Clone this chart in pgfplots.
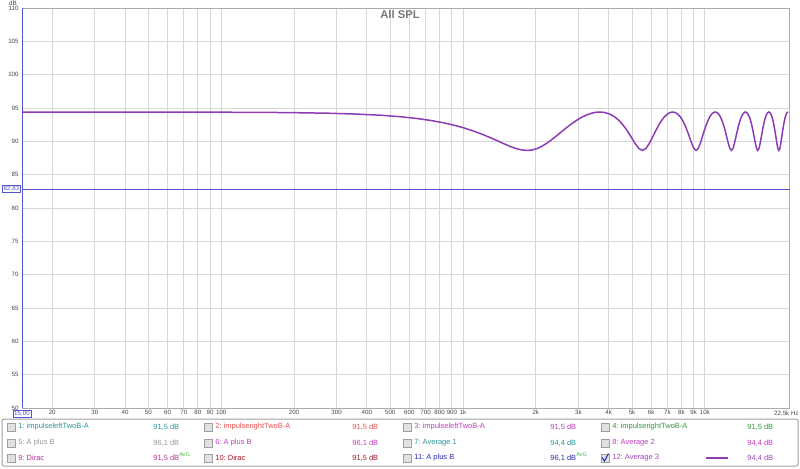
\documentclass[border=0pt]{standalone}
\usepackage{fontspec}
\setmainfont{Liberation Sans}
\usepackage{pgfplots}
\pgfplotsset{compat=1.18}

\definecolor{curve}{RGB}{140,60,180}
\definecolor{cursor}{RGB}{85,85,205}
\definecolor{gridc}{RGB}{215,215,215}
\definecolor{tickgray}{RGB}{70,70,70}
\definecolor{titlegray}{RGB}{120,120,120}
\definecolor{boxgray}{RGB}{160,160,160}
\definecolor{boxfill}{RGB}{225,225,225}
\definecolor{cteal}{RGB}{45,150,155}
\definecolor{cred}{RGB}{235,80,80}
\definecolor{cmag}{RGB}{195,60,195}
\definecolor{cgreen}{RGB}{50,155,60}
\definecolor{cgray}{RGB}{150,150,150}
\definecolor{cpink}{RGB}{180,50,150}
\definecolor{cdred}{RGB}{165,20,40}
\definecolor{cblue}{RGB}{40,40,180}
\definecolor{cpurp}{RGB}{160,70,190}
\definecolor{avg}{RGB}{60,180,60}

\newcommand{\legfont}{\fontsize{3.75}{4.5}\selectfont}
\newcommand{\tickfont}{\fontsize{3.1}{3.6}\selectfont}
\newcommand{\chk}[2]{\draw[draw=boxgray, fill=boxfill, line width=0.4pt] (#1-4,#2-4) rectangle (#1+4,#2+4);}
% legend entry: checkbox x, row y, colour, name, value x, value
\newcommand{\entry}[6]{%
  \chk{#1}{#2}
  \node[anchor=west, inner sep=0pt, text=#3, font=\legfont] at (#1+7,#2) {#4};
  \node[anchor=west, inner sep=0pt, text=#3, font=\legfont] at (#5,#2) {#6};}

\begin{document}
\frenchspacing
\begin{tikzpicture}
\begin{scope}[x=0.5pt,y=-0.5pt]
\path[use as bounding box] (0,0) rectangle (800,468);
\end{scope}

\begin{axis}[
    at={(11pt,-204pt)}, anchor=south west,
    scale only axis, width=384pt, height=200pt,
    xmode=log, xmin=15, xmax=22500,
    ymin=50, ymax=110,
    xtick={20,30,40,50,60,70,80,90,100,200,300,400,500,600,700,800,900,1000,2000,3000,4000,5000,6000,7000,8000,9000,10000},
    xticklabels={20,30,40,50,60,70,80,90,100,200,300,400,500,600,700,800,900,1k,2k,3k,4k,5k,6k,7k,8k,9k,10k},
    ytick={50,55,60,65,70,75,80,85,90,95,100,105,110},
    yticklabels={50,55,60,65,70,75,80,85,90,95,100,105,110},
    major tick length=0pt,
    grid=major,
    grid style={gridc, line width=0.5pt},
    axis line style={draw=gridc!80!black, line width=0.5pt},
    xticklabel style={font=\tickfont, text=tickgray, inner sep=1pt},
    yticklabel style={font=\tickfont, text=tickgray, inner sep=1.5pt},
    clip=true,
]
% cursor lines
\addplot[cursor, line width=0.5pt, no markers] coordinates {(15,82.83) (22500,82.83)};
\addplot[cursor, line width=1pt, no markers] coordinates {(15,50) (15,110)};

% Average 3
\addplot[curve, line width=0.75pt, no markers] coordinates {
 (15,94.40) (92,94.38) (184,94.32) (276,94.22) (368,94.08) (460,93.91)
 (552,93.69) (644,93.43) (736,93.13) (828,92.79) (920,92.41) (1012,92.00)
 (1104,91.55) (1196,91.08) (1288,90.60) (1380,90.12) (1472,89.66) (1564,89.25)
 (1656,88.92) (1748,88.71) (1840,88.64) (1932,88.71) (2024,88.92) (2116,89.25)
 (2208,89.66) (2300,90.12) (2392,90.60) (2484,91.08) (2576,91.55) (2668,92.00)
 (2760,92.41) (2852,92.79) (2944,93.13) (3036,93.43) (3128,93.69) (3220,93.91)
 (3312,94.08) (3404,94.22) (3496,94.32) (3588,94.38) (3680,94.40)
 (3864,94.32) (4048,94.08) (4232,93.69) (4416,93.13) (4600,92.41) (4784,91.55)
 (4968,90.60) (5152,89.66) (5336,88.92) (5520,88.64) (5704,88.92) (5888,89.66)
 (6072,90.60) (6256,91.55) (6440,92.41) (6624,93.13) (6808,93.69) (6992,94.08)
 (7176,94.32) (7360,94.40)
 (7544,94.32) (7728,94.08) (7912,93.69) (8096,93.13) (8280,92.41) (8464,91.55)
 (8648,90.60) (8832,89.66) (9016,88.92) (9200,88.64) (9384,88.92) (9568,89.66)
 (9752,90.60) (9936,91.55) (10120,92.41) (10304,93.13) (10488,93.69) (10672,94.08)
 (10856,94.32) (11040,94.40)
 (11224,94.32) (11408,94.08) (11592,93.69) (11776,93.13) (11960,92.41) (12144,91.55)
 (12328,90.60) (12512,89.66) (12696,88.92) (12880,88.64) (13064,88.92) (13248,89.66)
 (13432,90.60) (13616,91.55) (13800,92.41) (13984,93.13) (14168,93.69) (14352,94.08)
 (14536,94.32) (14720,94.40)
 (14904,94.32) (15088,94.08) (15272,93.69) (15456,93.13) (15640,92.41) (15824,91.55)
 (16008,90.60) (16192,89.66) (16376,88.92) (16560,88.64) (16744,88.92) (16928,89.66)
 (17112,90.60) (17296,91.55) (17480,92.41) (17664,93.13) (17848,93.69) (18032,94.08)
 (18216,94.32) (18400,94.40)
 (18584,94.32) (18768,94.08) (18952,93.69) (19136,93.13) (19320,92.41) (19504,91.55)
 (19688,90.60) (19872,89.66) (20056,88.92) (20240,88.64) (20424,88.92) (20608,89.66)
 (20792,90.60) (20976,91.55) (21160,92.41) (21344,93.13) (21528,93.69) (21712,94.08)
 (21896,94.32) (22080,94.40)
};
\end{axis}

\begin{scope}[x=0.5pt,y=-0.5pt]
% title and units
\node[text=titlegray, font=\fontsize{5.6}{6.5}\selectfont\bfseries] at (400,14) {All SPL};
\node[text=tickgray, font=\tickfont, inner sep=0pt] at (13,3) {dB};
\node[anchor=east, text=tickgray, font=\tickfont, inner sep=0pt] at (799,414) {22,5k Hz};
% cursor readouts
\node[draw=cursor, fill=white, text=cursor, font=\tickfont, inner sep=0.6pt, line width=0.4pt] at (11.5,189) {82,83};
\node[draw=cursor, fill=white, text=cursor, font=\tickfont, inner sep=0.6pt, line width=0.4pt] at (22,414) {15,00};

% legend panel
\draw[draw=boxgray, fill=white, line width=0.5pt, rounded corners=1pt] (2,419) rectangle (798,466);
\entry{11}{427}{cteal}{1: impulseleftTwoB-A}{153}{91,5 dB}
\entry{208}{427}{cred}{2: impulserightTwoB-A}{352}{91,5 dB}
\entry{407}{427}{cmag}{3: impulseleftTwoB-A}{550}{91,5 dB}
\entry{605}{427}{cgreen}{4: impulserightTwoB-A}{747}{91,5 dB}
\entry{11}{443}{cgray}{5: A plus B}{153}{96,1 dB}
\entry{208}{443}{cmag}{6: A plus B}{352}{96,1 dB}
\entry{407}{443}{cteal}{7: Average 1}{550}{94,4 dB}
\entry{605}{443}{cmag}{8: Average 2}{747}{94,4 dB}
\entry{11}{458}{cpink}{9: Dirac}{153}{91,5 dB}
\entry{208}{458}{cdred}{10: Dirac}{352}{91,5 dB}
\entry{407}{458}{cblue}{11: A plus B}{550}{96,1 dB}
\entry{605}{458}{cpurp}{12: Average 3}{747}{94,4 dB}
\node[anchor=west, inner sep=0pt, text=avg, font=\fontsize{2.6}{3}\selectfont] at (179,455) {AVG};
\node[anchor=west, inner sep=0pt, text=avg, font=\fontsize{2.6}{3}\selectfont] at (576,455) {AVG};
% check mark and line sample
\draw[cblue, line width=0.5pt] (602,457.5) -- (604.5,461) -- (608.5,453.5);
\draw[curve, line width=0.8pt] (706,458) -- (728,458);
\end{scope}
\end{tikzpicture}
\end{document}
